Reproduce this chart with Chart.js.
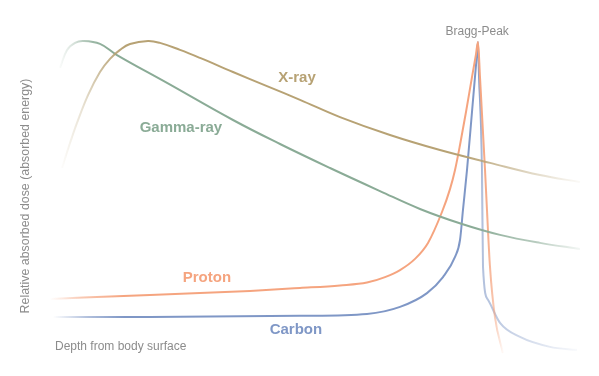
<!DOCTYPE html>
<html>
<head>
<meta charset="utf-8">
<script src="https://cdn.jsdelivr.net/npm/chart.js@4/dist/chart.umd.min.js"></script>
<style>
  html, body { margin: 0; padding: 0; background: #fff; }
  #wrap { width: 599px; height: 376px; }
</style>
</head>
<body>
<div id="wrap"><canvas id="chartCanvas" width="599" height="376"></canvas></div>
<script>
// depth (0..100) vs relative dose (0..100)
const xrayDepth = [2.26, 3.77, 5.09, 7.17, 9.43, 11.32, 13.21, 15.09, 18.49, 20.75, 24.53, 28.3, 34.53, 40.94, 47.17, 54.72, 64.15, 73.58, 83.02, 92.45, 100];
const xrayDose  = [60.0, 67.8, 74.1, 82.8, 90.0, 94.1, 96.9, 98.75, 99.7, 99.1, 96.9, 94.4, 90.0, 85.6, 81.3, 75.9, 70.3, 65.6, 61.6, 57.8, 55.6];

const gammaDepth = [1.89, 3.21, 4.72, 6.23, 9.43, 12.64, 22.08, 34.53, 43.4, 52.83, 62.26, 69.81, 77.74, 84.91, 92.45, 100];
const gammaDose  = [91.3, 96.9, 99.1, 99.7, 98.8, 95.3, 86.6, 75.0, 67.5, 60.0, 52.8, 47.2, 42.5, 39.1, 36.6, 34.7];

const protonDepth = [0, 18.87, 37.74, 47.17, 54.72, 59.81, 63.21, 66.04, 68.87, 71.32, 73.96, 75.47, 76.42, 77.36, 78.49, 79.62, 80.38, 80.75, 81.13, 82.08, 82.45, 83.02, 83.96, 85.47];
const protonDose  = [19.1, 20.3, 21.6, 22.5, 23.3, 24.2, 25.9, 28.1, 31.6, 36.6, 46.25, 53.4, 59.4, 67.2, 77.5, 88.4, 95.6, 99.4, 88.4, 59.4, 46.9, 29.1, 13.4, 2.2];

const carbonDepth = [0.57, 18.87, 47.17, 59.81, 66.04, 71.13, 74.15, 76.42, 77.36, 77.92, 78.68, 79.62, 80.38, 80.75, 80.94, 81.51, 81.7, 82.64, 84.91, 88.68, 94.34, 99.43];
const carbonDose  = [13.4, 13.4, 13.8, 14.4, 16.6, 20.9, 25.9, 32.2, 37.5, 46.9, 59.4, 77.5, 92.2, 99.4, 89.1, 59.4, 29.1, 18.8, 11.6, 7.2, 4.1, 3.1];

const seriesNames = ["X-ray", "Gamma-ray", "Proton", "Carbon"];
const seriesColors = ["#b7a274", "#8aab96", "#f5a47f", "#7f97c6"];
// fade stops along depth: [depth, opacity]
const seriesFades = [
  [[2.26, 0.03], [6, 0.3], [10, 0.75], [14, 1], [78, 1], [90, 0.45], [100, 0.05]],
  [[1.89, 0.05], [4.5, 0.35], [8, 0.85], [11, 1], [80, 1], [92, 0.6], [100, 0.1]],
  [[0, 0.0], [6, 0.6], [14, 1], [80.75, 1], [82.5, 0.9], [84, 0.55], [85.5, 0.05]],
  [[0.57, 0.0], [7, 0.6], [14, 1], [80.75, 1], [81.6, 0.6], [88, 0.4], [99.43, 0.05]]
];
// broad curves are drawn smooth, the Bragg peaks keep their tips
const seriesSmooth = [true, true, false, false];

// label positions in data units
const labelPos = [[46.6, 88.1], [24.7, 72.5], [29.6, 25.6], [46.4, 9.4]];
const peakLabel = "Bragg-Peak";
const peakPos = [80.6, 102.6];
const xTitle = "Depth from body surface";
const yTitle = "Relative absorbed dose (absorbed energy)";

const toPoints = (xs, ys) => xs.map((x, i) => ({ x: x, y: ys[i] }));

const rgba = (hex, a) => {
  const n = parseInt(hex.slice(1), 16);
  return `rgba(${(n >> 16) & 255},${(n >> 8) & 255},${n & 255},${a})`;
};

const fadeStroke = (idx) => (context) => {
  const chart = context.chart;
  const area = chart.chartArea;
  if (!area) return seriesColors[idx];
  const sx = chart.scales.x;
  const stops = seriesFades[idx];
  const x0 = sx.getPixelForValue(stops[0][0]);
  const x1 = sx.getPixelForValue(stops[stops.length - 1][0]);
  const g = chart.ctx.createLinearGradient(x0, 0, x1, 0);
  stops.forEach(([d, a]) => {
    const p = (sx.getPixelForValue(d) - x0) / (x1 - x0);
    g.addColorStop(Math.min(1, Math.max(0, p)), rgba(seriesColors[idx], a));
  });
  return g;
};

const allData = [
  toPoints(xrayDepth, xrayDose),
  toPoints(gammaDepth, gammaDose),
  toPoints(protonDepth, protonDose),
  toPoints(carbonDepth, carbonDose)
];

const FONT = '"Helvetica Neue", Helvetica, Arial, "Liberation Sans", sans-serif';

// текстовые подписи
const labelsPlugin = {
  id: "labels",
  afterDatasetsDraw(chart) {
    const { ctx, scales } = chart;
    ctx.save();
    ctx.textAlign = "center";
    ctx.textBaseline = "middle";
    ctx.font = "bold 15px " + FONT;
    seriesNames.forEach((name, i) => {
      ctx.fillStyle = seriesColors[i];
      ctx.fillText(name, scales.x.getPixelForValue(labelPos[i][0]), scales.y.getPixelForValue(labelPos[i][1]));
    });
    ctx.fillStyle = "#8c8c8c";
    ctx.font = "12px " + FONT;
    ctx.fillText(peakLabel, scales.x.getPixelForValue(peakPos[0]), scales.y.getPixelForValue(peakPos[1]));
    ctx.textAlign = "left";
    ctx.fillText(xTitle, 55, 347);
    ctx.translate(26, 196);
    ctx.rotate(-Math.PI / 2);
    ctx.textAlign = "center";
    ctx.font = "12.4px " + FONT;
    ctx.fillText(yTitle, 0, 0);
    ctx.restore();
  }
};

const chart = new Chart(document.getElementById("chartCanvas").getContext("2d"), {
  type: "line",
  data: {
    datasets: allData.map((d, i) => ({
      label: seriesNames[i],
      data: d,
      borderColor: fadeStroke(i),
      borderWidth: 2,
      pointRadius: 0,
      fill: false,
      cubicInterpolationMode: seriesSmooth[i] ? "default" : "monotone",
      tension: 0.4,
      clip: false
    }))
  },
  options: {
    responsive: false,
    animation: false,
    layout: { padding: { left: 50, right: 19, top: 40, bottom: 16 } },
    scales: {
      x: { type: "linear", min: 0, max: 100, display: false },
      y: { min: 0, max: 100, display: false }
    },
    plugins: { legend: { display: false }, tooltip: { enabled: false } }
  },
  plugins: [labelsPlugin]
});
</script>
</body>
</html>
